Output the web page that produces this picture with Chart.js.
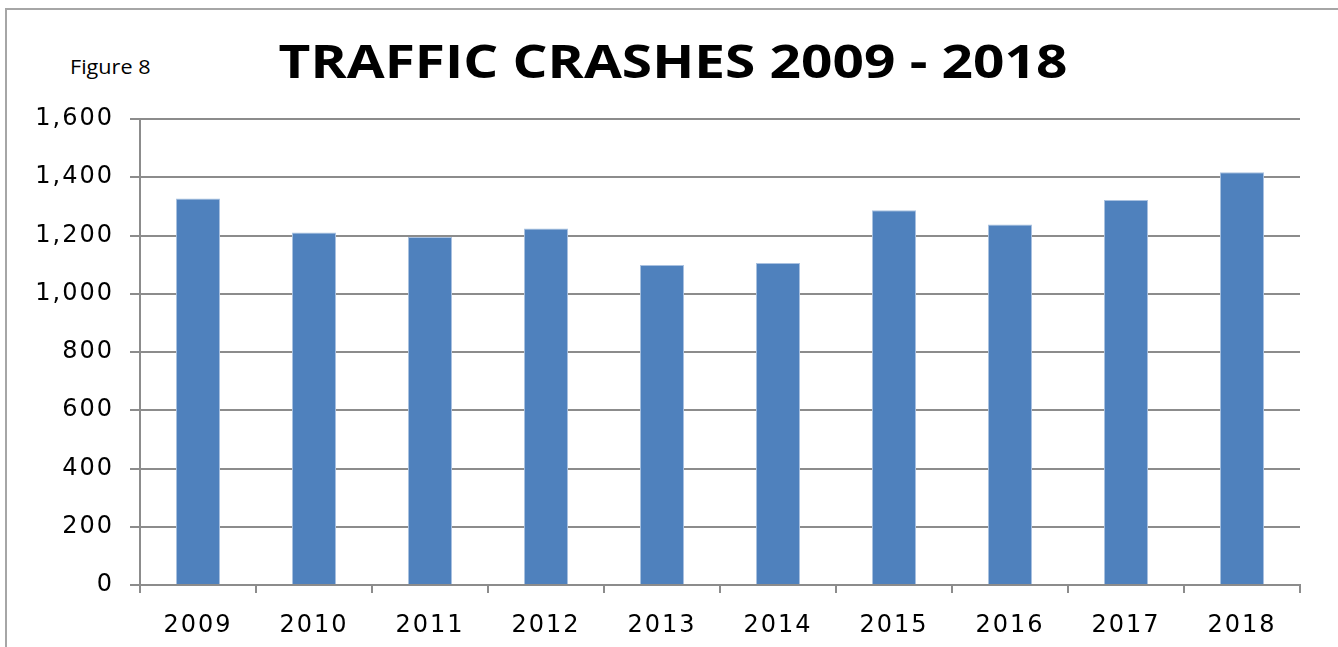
<!DOCTYPE html>
<html>
<head>
<meta charset="utf-8">
<script src="https://cdn.jsdelivr.net/npm/chart.js@4.4.1/dist/chart.umd.min.js"></script>
<style>
    html, body { margin: 0; padding: 0; background: #fff; }
    #wrap { position: relative; width: 1338px; height: 647px; overflow: hidden; }
    #frame { position: absolute; left: 5px; top: 8px; width: 1340px; height: 650px; border: 2px solid #a6a6a6; box-sizing: border-box; }
    #fig { position: absolute; left: 70px; top: 53px; font: 20px "Open Sans", sans-serif; color: #000; transform-origin: 0 0; transform: scaleX(1.08); }
    #titulo { position: absolute; left: 0; width: 1346px; top: 28px; text-align: center; font: bold 47px "Open Sans", sans-serif; color: #000; transform-origin: 673px 0; transform: scaleX(1.17); }
    canvas { position: absolute; left: 0; top: 0; }
</style>
</head>
<body>
<div id="wrap">
    <div id="frame"></div>
    <div id="fig">Figure 8</div>
    <div id="titulo">TRAFFIC CRASHES 2009 - 2018</div>
    <canvas id="grafico" width="1338" height="647"></canvas>
</div>
<script>
const ANOS = ["2009", "2010", "2011", "2012", "2013", "2014", "2015", "2016", "2017", "2018"];
const ACIDENTES = [1327, 1210, 1195, 1224, 1099, 1106, 1287, 1238, 1322, 1417];
const Y_TICKS = [0, 200, 400, 600, 800, 1000, 1200, 1400, 1600];

const ctx = document.getElementById("grafico").getContext("2d");

// texto do gráfico original é mais largo
const espacamento = {
    id: "espacamento",
    beforeLayout: function (chart) { chart.ctx.letterSpacing = "2px"; },
    beforeDraw: function (chart) { chart.ctx.letterSpacing = "2px"; }
};

new Chart(ctx, {
    type: "bar",
    data: {
        labels: ANOS,
        datasets: [{
            label: "Traffic crashes",
            data: ACIDENTES,
            backgroundColor: "#4f81bd",
            borderColor: "#a9c1e0",
            borderWidth: 1,
            barPercentage: 0.76,
            categoryPercentage: 0.5
        }]
    },
    options: {
        responsive: false,
        animation: false,
        layout: { padding: { left: 0, right: 38, top: 119, bottom: 0 } },
        plugins: {
            legend: { display: false },
            tooltip: { enabled: false }
        },
        scales: {
            y: {
                min: 0,
                max: 1600,
                afterBuildTicks: function (scale) {
                    scale.ticks = Y_TICKS.map(v => ({ value: v }));
                },
                afterFit: function (scale) { scale.width = 140; },
                ticks: {
                    color: "#000",
                    padding: 16,
                    font: { family: "DejaVu Sans", size: 24 },
                    callback: function (value) {
                        return value.toLocaleString("en-US");
                    }
                },
                grid: {
                    color: "#8c8c8c",
                    lineWidth: 2,
                    tickLength: 10
                },
                border: { color: "#8c8c8c", width: 2 }
            },
            x: {
                afterFit: function (scale) { scale.height = 62; },
                ticks: {
                    color: "#000",
                    padding: 18,
                    font: { family: "DejaVu Sans", size: 24 }
                },
                grid: {
                    offset: true,
                    drawOnChartArea: false,
                    color: "#8c8c8c",
                    lineWidth: 2,
                    tickLength: 8
                },
                border: { color: "#8c8c8c", width: 2 }
            }
        }
    },
    plugins: [espacamento]
});
</script>
</body>
</html>
